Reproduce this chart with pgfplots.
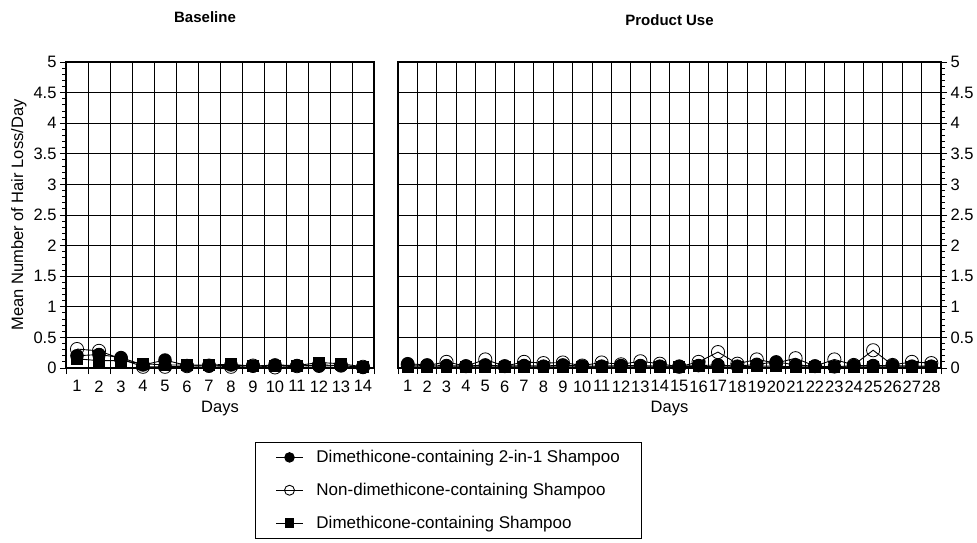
\documentclass[border=0pt]{standalone}
\usepackage{fontspec}
\setmainfont{Liberation Sans}
\usepackage{pgfplots}
\usepackage{pgfplotstable}
\pgfplotsset{compat=1.18}

\pgfplotstableread{
day a b c
1 0.20 0.31 0.15
2 0.22 0.28 0.12
3 0.17 0.15 0.12
4 0.05 0.02 0.07
5 0.13 0.02 0.05
6 0.04 0.03 0.05
7 0.03 0.04 0.05
8 0.05 0.02 0.06
9 0.03 0.04 0.03
10 0.05 0.01 0.04
11 0.04 0.03 0.04
12 0.03 0.05 0.09
13 0.04 0.04 0.07
14 0.01 0.02 0.02
}\baseline

\pgfplotstableread{
day a b c
1 0.07 0.05 0.02
2 0.05 0.04 0.02
3 0.04 0.10 0.02
4 0.03 0.03 0.02
5 0.05 0.14 0.02
6 0.03 0.03 0.02
7 0.04 0.10 0.02
8 0.03 0.08 0.02
9 0.05 0.09 0.02
10 0.03 0.04 0.02
11 0.03 0.09 0.02
12 0.04 0.06 0.02
13 0.04 0.11 0.02
14 0.03 0.07 0.02
15 0.03 0.02 0.02
16 0.04 0.10 0.03
17 0.05 0.26 0.02
18 0.03 0.07 0.02
19 0.06 0.14 0.03
20 0.10 0.08 0.03
21 0.05 0.16 0.02
22 0.03 0.03 0.02
23 0.02 0.14 0.02
24 0.04 0.05 0.02
25 0.04 0.29 0.02
26 0.04 0.05 0.02
27 0.03 0.10 0.02
28 0.03 0.08 0.02
}\product

\pgfplotsset{
  common/.style={
    scale only axis, height=306pt,
    ymin=0, ymax=5,
    ytick={0,0.5,...,5},
    minor ytick={0,0.1,...,5},
    ymajorgrids=true, xmajorgrids=true,
    grid style={black, line width=0.8pt},
    axis line style={line width=1.3pt},
    major tick length=6pt, minor tick length=3.5pt,
    tick align=outside,
    tick style={black, line width=0.9pt},
    x tick label style={yshift=-9pt},
    xticklabels={},
    extra x tick style={major tick length=0pt, grid=none, tick style={draw=none}},
    /pgf/number format/assume math mode=true,
    tick label style={font=\fontsize{16.5}{18}\selectfont},
    label style={font=\fontsize{16.5}{18}\selectfont},
    title style={font=\fontsize{15}{17}\selectfont\bfseries, at={(0.5,1)}, anchor=south},
    xlabel={Days},
    xlabel style={yshift=4pt},
  },
  s1/.style={black, line width=0.9pt, mark=*, mark size=6.3pt, mark options={fill=black, solid}},
  s2/.style={black, line width=0.9pt, mark=o, mark size=6.6pt, mark options={fill=none, solid, line width=0.8pt}},
  s3/.style={black, line width=0.9pt, mark=square*, mark size=5.4pt, mark options={fill=black, solid}},
}

\begin{document}
\begin{tikzpicture}
\begin{axis}[common,
  at={(66pt,-62pt)}, anchor=north west,
  width=308pt,
  xmin=0.5, xmax=14.5,
  xtick={0.5,1.5,...,14.5},
  extra x ticks={1,...,14},
  extra x tick labels={1,2,3,4,5,6,7,8,9,10,11,12,13,14},
  ytick pos=left, xtick pos=bottom,
  ylabel={Mean Number of Hair Loss/Day},
  ylabel style={yshift=0pt},
  title={Baseline},
  title style={xshift=-15pt, yshift=30pt},
  legend style={at={(0.614,-0.242)}, anchor=north west, draw=black, line width=0.9pt,
    font=\fontsize{17}{19}\selectfont, inner xsep=20pt, inner ysep=6pt,
    row sep=15pt, cells={anchor=west},
    /tikz/every odd column/.append style={column sep=11pt}},
  legend cell align=left,
  legend image code/.code={\draw[#1] (0pt,0pt) -- (13.5pt,0pt) -- (27pt,0pt); \path[#1, only marks] plot coordinates {(13.5pt,0pt)};},
]
\addplot[s2, forget plot] table[x=day, y=b] {\baseline};
\addplot[s3, forget plot] table[x=day, y=c] {\baseline};
\addplot[s1, forget plot] table[x=day, y=a] {\baseline};
\addlegendimage{black, line width=0.9pt, mark=*, mark size=4.8pt}
\addlegendentry{Dimethicone-containing 2-in-1 Shampoo}
\addlegendimage{black, line width=0.9pt, mark=o, mark size=5pt, mark options={fill=none}}
\addlegendentry{Non-dimethicone-containing Shampoo}
\addlegendimage{black, line width=0.9pt, mark=square*, mark size=4.2pt}
\addlegendentry{Dimethicone-containing Shampoo}
\end{axis}
\begin{axis}[common,
  at={(398pt,-62pt)}, anchor=north west,
  width=543pt,
  xmin=0.5, xmax=28.5,
  xtick={0.5,1.5,...,28.5},
  extra x ticks={1,...,28},
  extra x tick labels={1,2,3,4,5,6,7,8,9,10,11,12,13,14,15,16,17,18,19,20,21,22,23,24,25,26,27,28},
  ytick pos=right, xtick pos=bottom,
  title={Product Use},
  title style={yshift=27pt},
]
\addplot[s2] table[x=day, y=b] {\product};
\addplot[s3] table[x=day, y=c] {\product};
\addplot[s1] table[x=day, y=a] {\product};
\end{axis}
\pgfresetboundingbox
\path (0,0) rectangle (977pt,-542pt);
\end{tikzpicture}
\end{document}
